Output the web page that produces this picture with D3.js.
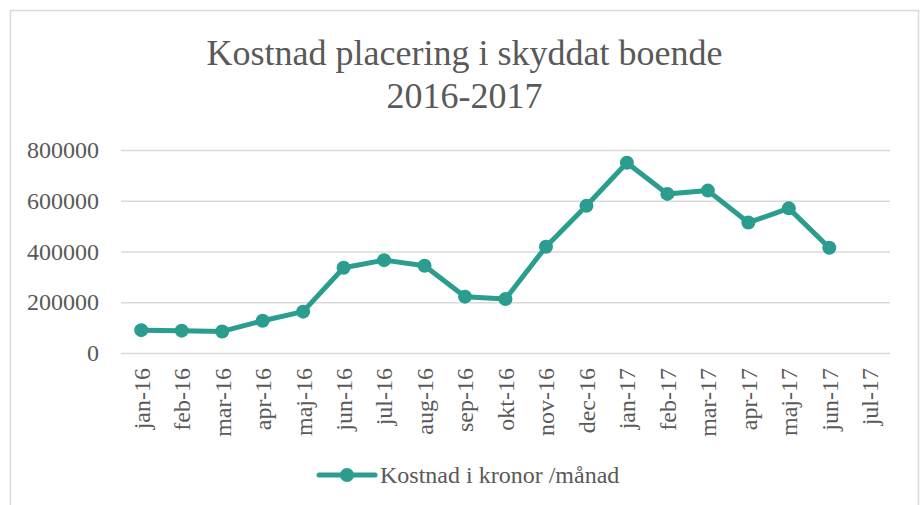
<!DOCTYPE html>
<html>
<head>
	<meta charset="utf-8">
	<title>Kostnad placering i skyddat boende</title>
	<script type="text/javascript" src="https://cdn.jsdelivr.net/npm/d3@7"></script>
	<style>
		body {
			margin: 0;
			background: #fff;
		}
		svg text {
			font-family: "Liberation Serif", "Times New Roman", serif;
		}
	</style>
</head>

<body>

	<div id="chart"></div>

	<script>

		// data

		const months = ["jan-16", "feb-16", "mar-16", "apr-16", "maj-16", "jun-16", "jul-16", "aug-16", "sep-16",
			"okt-16", "nov-16", "dec-16", "jan-17", "feb-17", "mar-17", "apr-17", "maj-17", "jun-17", "jul-17"];
		const kostnad = [90000, 88000, 85000, 127000, 163000, 336000, 366000, 344000, 222000,
			213000, 419000, 580000, 750000, 627000, 640000, 514000, 570000, 415000, null];
		const yTicks = [0, 200000, 400000, 600000, 800000];
		const titleLines = ["Kostnad placering i skyddat boende", "2016-2017"];
		const seriesName = "Kostnad i kronor /månad";

		// customization

		const width = 921;
		const height = 505;
		const color = "#2a9d8f";
		const textColor = "#595959";
		const gridColor = "#d9d9d9";
		const fontSize = "24px";

		const margin = { top: 150, right: 31, bottom: 152, left: 121 };

		const svg = d3.select("#chart")
			.append("svg")
			.attr("width", width)
			.attr("height", height)
			.attr("viewBox", [0, 0, width, height]);

		// chart frame
		svg.append("rect")
			.attr("x", 10.5)
			.attr("y", 10.5)
			.attr("width", 908)
			.attr("height", 510)
			.attr("fill", "#fff")
			.attr("stroke", gridColor)
			.attr("stroke-width", 1.5);

		const xScale = d3.scaleBand()
			.domain(months)
			.range([margin.left, width - margin.right]);

		const yScale = d3.scaleLinear()
			.domain([0, 800000])
			.range([height - margin.bottom, margin.top]);

		// title
		svg.append("text")
			.attr("x", 464.5)
			.attr("y", 65)
			.attr("text-anchor", "middle")
			.attr("fill", textColor)
			.style("font-size", "36px")
			.selectAll("tspan")
			.data(titleLines)
			.join("tspan")
			.attr("x", 464.5)
			.attr("dy", (d, i) => i === 0 ? 0 : 43)
			.text(d => d);

		// y axis + gridlines
		svg.append("g")
			.attr("transform", `translate(${margin.left},0)`)
			.call(d3.axisLeft(yScale).tickValues(yTicks).tickFormat(d3.format("d")).tickSize(0).tickPadding(22))
			.call(g => g.select(".domain").remove())
			.call(g => g.selectAll(".tick text")
				.attr("fill", textColor)
				.style("font-size", fontSize)
				.style("font-family", null))
			.call(g => g.selectAll(".tick line").clone()
				.attr("x2", width - margin.left - margin.right)
				.attr("stroke", gridColor)
				.attr("stroke-width", 1.5));

		// x axis
		svg.append("g")
			.attr("transform", `translate(0,${height - margin.bottom})`)
			.call(d3.axisBottom(xScale).tickSize(0).tickPadding(0))
			.call(g => g.select(".domain").remove())
			.call(g => g.selectAll(".tick text")
				.attr("fill", textColor)
				.style("font-size", fontSize)
				.style("font-family", null)
				.attr("text-anchor", "end")
				.attr("transform", "rotate(-90)")
				.attr("x", -15)
				.attr("y", 0)
				.attr("dy", "0.35em"));

		// line + markers
		const line = d3.line()
			.defined(d => d != null)
			.x((d, i) => xScale(months[i]) + xScale.bandwidth() / 2)
			.y(d => yScale(d));

		svg.append("path")
			.datum(kostnad)
			.attr("fill", "none")
			.attr("stroke", color)
			.attr("stroke-width", 5)
			.attr("stroke-linejoin", "round")
			.attr("d", line);

		svg.append("g")
			.selectAll("circle")
			.data(kostnad.map((v, i) => ({ month: months[i], v })).filter(d => d.v != null))
			.join("circle")
			.attr("cx", d => xScale(d.month) + xScale.bandwidth() / 2)
			.attr("cy", d => yScale(d.v))
			.attr("r", 7)
			.attr("fill", color);

		// legend
		const legend = svg.append("g").attr("transform", "translate(319,475)");
		legend.append("line")
			.attr("x1", 0)
			.attr("x2", 56)
			.attr("stroke", color)
			.attr("stroke-width", 5)
			.attr("stroke-linecap", "round");
		legend.append("circle")
			.attr("cx", 28)
			.attr("r", 7)
			.attr("fill", color);
		legend.append("text")
			.attr("x", 61)
			.attr("dy", "0.35em")
			.attr("fill", textColor)
			.style("font-size", fontSize)
			.text(seriesName);

	</script>

</body>

</html>
